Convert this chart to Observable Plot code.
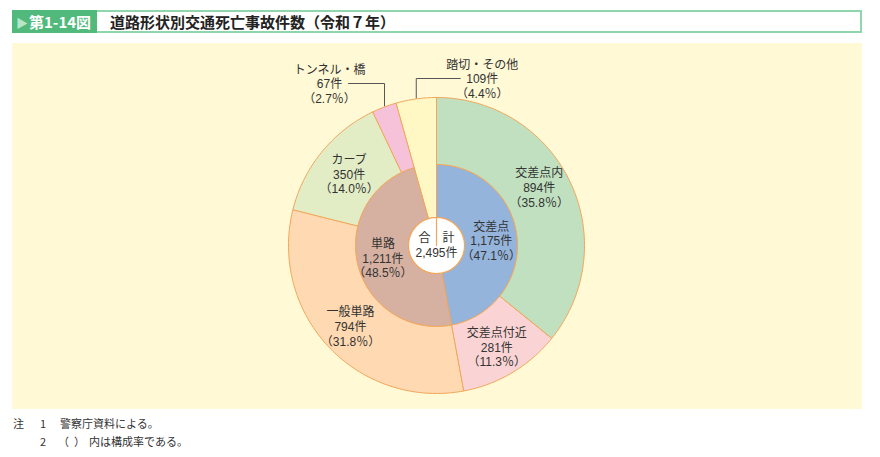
<!DOCTYPE html>
<html>
<head>
<meta charset="utf-8">
<script src="https://cdn.jsdelivr.net/npm/d3@7"></script>
<script src="https://cdn.jsdelivr.net/npm/@observablehq/plot@0.6"></script>
<style>
  html, body { margin: 0; padding: 0; background: #ffffff; }
  body { width: 880px; height: 457px; position: relative; font-family: "Noto Sans CJK JP", sans-serif; }
  #titlebar { position: absolute; left: 12px; top: 10px; width: 850px; height: 23px; display: flex; }
  #fig { width: 85px; height: 23px; background: #52b97c; color: #fff; font-weight: 700; font-size: 15px; line-height: 23px; box-sizing: border-box; padding-left: 4px; white-space: nowrap; }
  #fig .tri { color: #b5e6c8; font-size: 12px; margin-right: 1px; }
  #ttl { flex: 1; height: 23px; box-sizing: border-box; border: 2px solid #8fd6ac; border-left: none; background: #fff; font-weight: 700; font-size: 15px; line-height: 19px; padding-left: 13px; color: #222; white-space: nowrap; }
  #chart { position: absolute; left: 12px; top: 43px; width: 850px; height: 366px; }
  #notes { position: absolute; left: 0; top: 414px; width: 880px; font-size: 11px; color: #333; }
  #notes .row { position: relative; height: 18px; line-height: 18px; white-space: nowrap; }
  #notes span { position: absolute; }
</style>
</head>
<body>
<div id="titlebar"><div id="fig"><span class="tri">▶</span>第1-14図</div><div id="ttl">道路形状別交通死亡事故件数（令和７年）</div></div>
<div id="chart"></div>
<div id="notes">
  <div class="row"><span style="left:13px">注</span><span style="left:40px">1</span><span style="left:60px">警察庁資料による。</span></div>
  <div class="row"><span style="left:40px">2</span><span style="left:58px">（</span><span style="left:74px">）</span><span style="left:89px">内は構成率である。</span></div>
</div>
<script>
// ---- data ----
const outerNames  = ["交差点内", "交差点付近", "一般単路", "カーブ", "トンネル・橋", "踏切・その他"];
const outerValues = [894, 281, 794, 350, 67, 109];
const innerNames  = ["交差点", "単路", "踏切・その他"];
const innerValues = [1175, 1211, 109];
const totalName   = "合　計";
const unit        = "件";

// ---- styles ----
const colorDomain = ["交差点", "単路", "交差点内", "交差点付近", "一般単路", "カーブ", "トンネル・橋", "踏切・その他"];
const colorRange  = ["#94b4dc", "#d6b1a1", "#c0e0c0", "#fad4d4", "#fed9b1", "#e2edc6", "#f6c2d9", "#fff7c4"];
const R = 148, RM = 81, RH = 28;
const callouts = new Set(["トンネル・橋", "踏切・その他"]);
const angleTweak = {"交差点内": -4};
const radiusTweak = {"カーブ": 113};

const total = d3.sum(innerValues);
const fmt = d3.format(",");
const pct = v => "（" + (v / total * 100).toFixed(1) + "％）";
const rad = a => a * Math.PI / 180;
const pt = (r, a) => [r * Math.sin(rad(a)), -r * Math.cos(rad(a))];

function wedge(name, a0, a1, r0, r1) {
  const n = Math.max(2, Math.ceil((a1 - a0) / 1));
  const outer = d3.range(n + 1).map(i => pt(r1, a0 + (a1 - a0) * i / n));
  const inner = d3.range(n + 1).map(i => pt(r0, a1 - (a1 - a0) * i / n));
  const ring = [...outer, ...inner, outer[0]];
  return {type: "Feature", properties: {name}, geometry: {type: "Polygon", coordinates: [ring]}};
}

function layout(names, values) {
  let acc = 0;
  return names.map((name, i) => {
    const a0 = acc / total * 360; acc += values[i];
    const a1 = acc / total * 360;
    return {name, value: values[i], a0, a1, mid: (a0 + a1) / 2};
  });
}
const inner = layout(innerNames, innerValues);
const outer = layout(outerNames, outerValues);
const shared = new Set(outerNames.filter(n => innerNames.includes(n)));

const wedges = [
  ...inner.filter(d => !shared.has(d.name)).map(d => wedge(d.name, d.a0, d.a1, RH, RM)),
  ...outer.map(d => wedge(d.name, d.a0, d.a1, shared.has(d.name) ? RH : RM, R))
];
const hole = wedge("hole", 0, 360, 0, RH);

const labels = [];
const leaders = [];
inner.filter(d => !shared.has(d.name)).forEach(d => {
  const [x, y] = pt(55, d.mid);
  labels.push({x, y, text: `${d.name}\n${fmt(d.value)}${unit}\n${pct(d.value)}`});
});
outer.forEach(d => {
  const text = `${d.name}\n${fmt(d.value)}${unit}\n${pct(d.value)}`;
  if (callouts.has(d.name)) {
    const [ax, ay] = pt(R, d.mid);
    const left = d.name === "トンネル・橋";
    const ly = -R - (left ? 14 : 19);
    const lx = left ? ax - 55 : ax + 66;
    labels.push({x: lx, y: ly, text});
    const ex = left ? lx + 19 : lx - 22;
    leaders.push({type: "Feature", properties: {}, geometry: {type: "LineString", coordinates: [[ax, ay - 1], [ax, ly], [ex, ly]]}});
  } else {
    const [x, y] = pt(radiusTweak[d.name] ?? 118, d.mid + (angleTweak[d.name] ?? 0));
    labels.push({x, y, text});
  }
});
labels.push({x: 0, y: -1, text: `${totalName}\n${fmt(total)}${unit}`});

const plot = Plot.plot({
  width: 850,
  height: 366,
  margin: 0,
  projection: {type: "identity", domain: {type: "MultiPoint", coordinates: [[-424, -202], [426, 164]]}},
  color: {type: "ordinal", domain: colorDomain, range: colorRange},
  style: {background: "#fff9d6", fontFamily: "'Liberation Sans', 'Noto Sans CJK JP', sans-serif"},
  marks: [
    Plot.geo(wedges, {fill: d => d.properties.name, stroke: "#f2a65a", strokeWidth: 1}),
    Plot.geo([hole], {fill: "#ffffff", stroke: "#f2a65a", strokeWidth: 1.2}),
    Plot.geo(leaders, {fill: "none", stroke: "#555", strokeWidth: 1}),
    Plot.text(labels, {x: "x", y: "y", text: "text", fontSize: 12, lineHeight: 1.22, fill: "#333"})
  ]
});
document.getElementById("chart").appendChild(plot);
</script>
</body>
</html>
